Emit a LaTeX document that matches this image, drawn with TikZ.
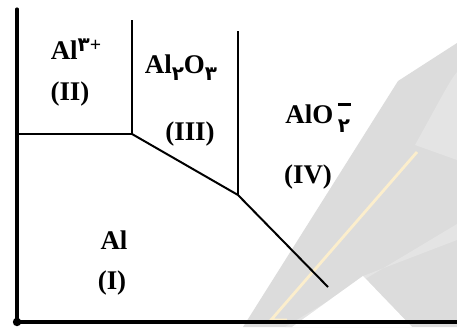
\documentclass[tikz,border=0pt]{standalone}
\usepackage{fontspec}
\setmainfont{Liberation Serif}
\newfontfamily\arabicfont[Script=Arabic]{DejaVu Sans}
\definecolor{markgray}{RGB}{220,220,220}
\definecolor{marklight}{RGB}{228,228,228}
\definecolor{markgold}{RGB}{252,238,204}
\usetikzlibrary{calc}
\tikzset{
  axisline/.style={line width=2.6pt, line cap=round},
  boundline/.style={line width=2.4pt},
  thinline/.style={line width=1.7pt},
  regionlabel/.style={font=\fontsize{23}{26}\selectfont\bfseries, inner sep=0pt},
  numlabel/.style={font=\fontsize{23}{26}\selectfont\bfseries, inner sep=0pt},
}
\newcommand{\fa}[1]{{\arabicfont\fontsize{17}{18}\selectfont #1}}

\begin{document}
\begin{tikzpicture}[x=0.03cm, y=-0.03cm]
  \useasboundingbox (0,0) rectangle (457,327);
  \clip (0,0) rectangle (457,327);

  % watermark in the background
  \fill[markgray] (243,327) -- (398,81) -- (457,43) -- (457,327) -- cycle;
  \fill[marklight] (285,327) -- (457,224) -- (457,240) -- (363,276) -- (292,327) -- cycle;
  \fill[white] (292,327) -- (363,276) -- (412,327) -- cycle;
  \fill[marklight] (415,145) .. controls (440,100) and (450,80) .. (457,72) -- (457,160) -- cycle;
  \draw[markgold, line width=2.4pt] (287,320) -- (271,320) -- (417,152);

  % corners of the regions
  \coordinate (origin) at (17,322);
  \coordinate (ytop) at (17,9);
  \coordinate (xend) at (460,322);
  \coordinate (ionleft) at (17,134);
  \coordinate (ionjoin) at (132,134);
  \coordinate (iontop) at (132,20);
  \coordinate (oxjoin) at (238,195);
  \coordinate (oxtop) at (238,31);
  \coordinate (alend) at (328,287);

  % axes
  \draw[axisline] (ytop) -- (origin) -- (xend);
  \fill (origin) circle (4.2);

  % boundaries
  \draw[boundline] (ionleft) -- (ionjoin) -- (iontop);
  \draw[thinline] (ionjoin) -- (oxjoin) -- (alend);
  \draw[thinline] (oxjoin) -- (oxtop);

  % labels
  \node[regionlabel] (ion) at (76,49) {Al\raisebox{7pt}{\fa{۳}\fontsize{17}{18}\selectfont+}};
  \node[numlabel] (ionnum) at (70,94) {(II)};
  \node[regionlabel] (oxide) at (181,68) {Al\raisebox{-6pt}{\fa{۲}}O\raisebox{-6pt}{\fa{۳}}};
  \node[numlabel] (oxnum) at (190,134) {(III)};
  \node[regionlabel] (aluminate) at (318,118) {AlO\,\rlap{\raisebox{-8pt}{\fa{۲}}}\raisebox{15pt}{\rule{11pt}{1.8pt}}};
  \node[numlabel] (alunum) at (308,177) {(IV)};
  \node[regionlabel] (metal) at (114,240) {Al};
  \node[numlabel] (metalnum) at (112,283) {(I)};
\end{tikzpicture}
\end{document}
